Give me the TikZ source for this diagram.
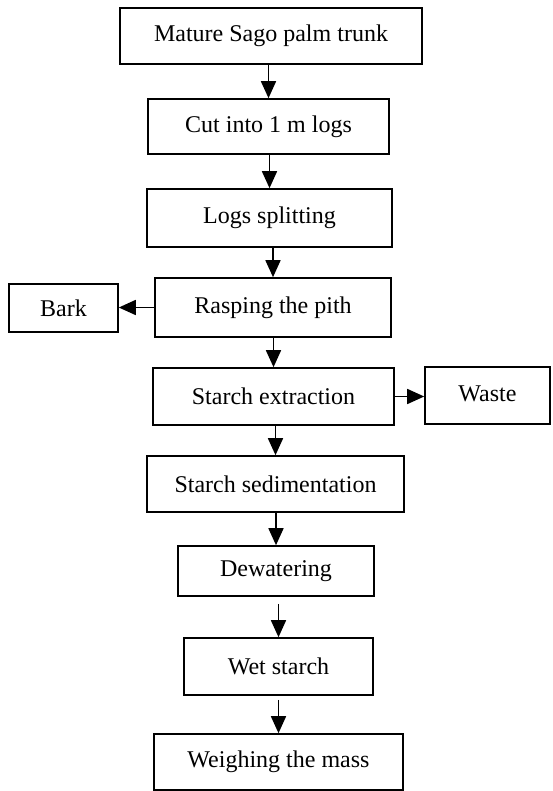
\documentclass[tikz,border=0pt]{standalone}
\usepackage{fontspec}
\setmainfont{Liberation Serif}
\usetikzlibrary{arrows.meta}

\begin{document}
\begin{tikzpicture}[x=0.5pt,y=-0.5pt]
                \useasboundingbox (0,0) rectangle (552,791);
                \begin{scope}[every node/.style={rectangle,thick,draw,inner sep=0pt,font=\fontsize{12}{14}\selectfont}]
                \node[minimum width=151pt,minimum height=28pt] (trunk) at (271,36) {Mature Sago palm trunk};
                \node[minimum width=120.5pt,minimum height=27.5pt] (cut) at (268.5,126.5) {Cut into 1 m logs};
                \node[minimum width=122.5pt,minimum height=29pt] (split) at (269.5,218) {Logs splitting};
                \node[minimum width=118pt,minimum height=29.5pt] (rasp) at (273,307.5) {Rasping the pith};
                \node[minimum width=54.5pt,minimum height=24pt] (bark) at (63.5,308) {Bark};
                \node[minimum width=120.5pt,minimum height=28.5pt] (extract) at (273.5,396.5) {Starch extraction};
                \node[minimum width=62.5pt,minimum height=28.5pt] (waste) at (487.5,395.5) {\raisebox{2pt}{Waste}};
                \node[minimum width=128.5pt,minimum height=28pt] (sediment) at (275.5,484) {Starch sedimentation};
                \node[minimum width=98pt,minimum height=25pt] (dewater) at (276,571) {Dewatering};
                \node[minimum width=94.5pt,minimum height=28.5pt] (wet) at (278.5,666.5) {Wet starch};
                \node[minimum width=124.5pt,minimum height=28pt] (weigh) at (278.5,762) {Weighing the mass};
                \end{scope}
                
                \tikzset{flow/.style={thick,-{Triangle[length=8.5pt,width=7.5pt]}}}
                \foreach \a/\b/\g in {trunk/cut/0, cut/split/0, split/rasp/0, rasp/extract/0,
                  extract/sediment/0, sediment/dewater/0, dewater/wet/3.5, wet/weigh/2}
                  \draw[flow,shorten <=\g pt] (\b.north |- \a.south) -- (\b.north);
                \draw[flow] (rasp.west) -- (rasp.west -| bark.east);
                \draw[flow] (extract.east) -- (extract.east -| waste.west);
                \end{tikzpicture}
\end{document}
